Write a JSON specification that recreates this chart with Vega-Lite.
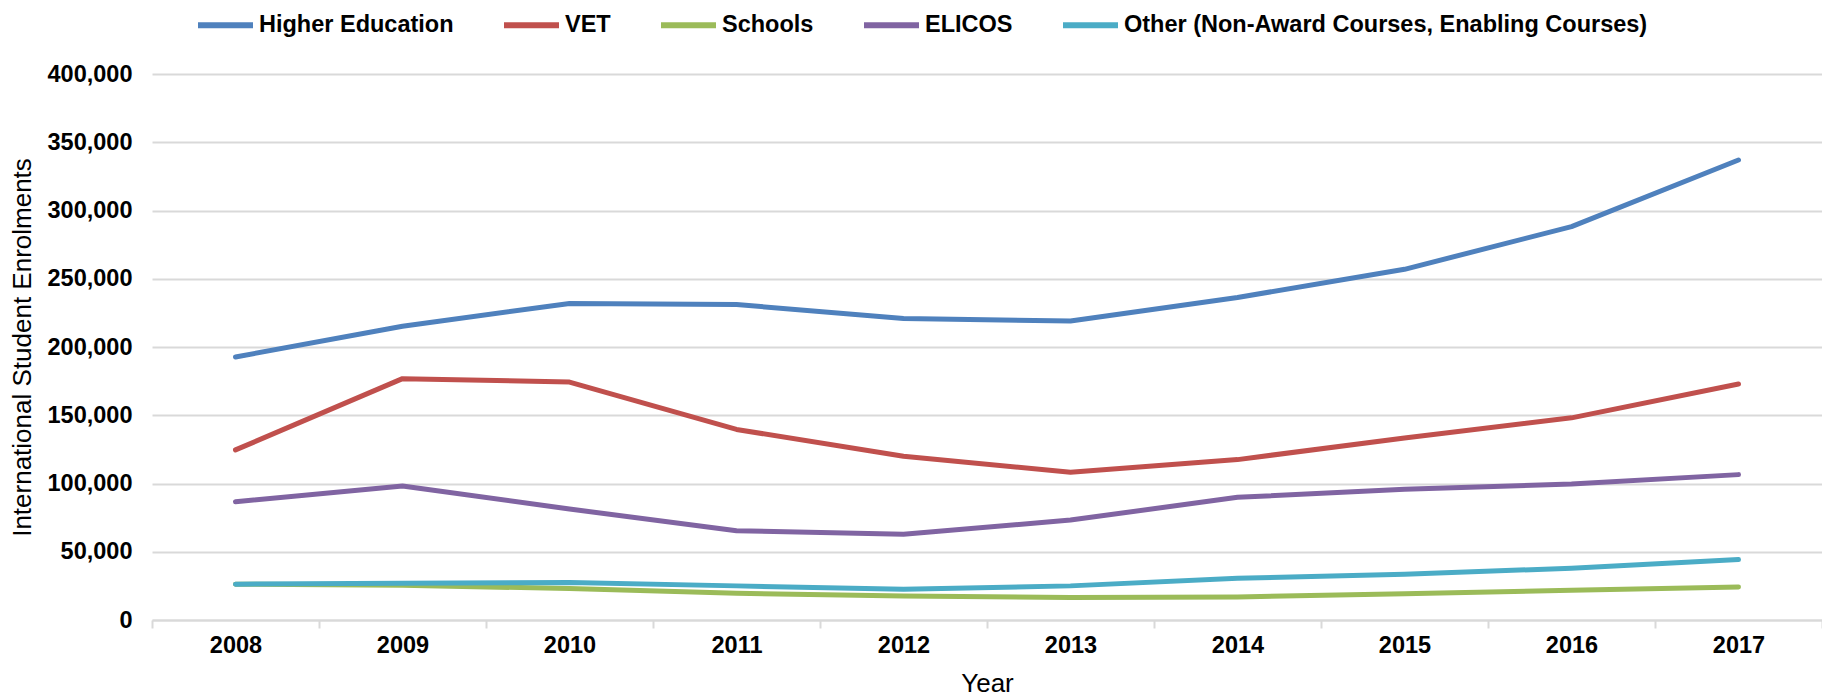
{
  "$schema": "https://vega.github.io/schema/vega-lite/v6.json",
  "autosize": {"type": "none"},
  "padding": {"left": 152, "top": 74, "right": 0, "bottom": 77},
  "width": 1670,
  "height": 546,
  "background": "white",
  "config": {
    "font": "Liberation Sans",
    "view": {"stroke": null}
  },
  "data": {
    "values": [
      {"series": "Higher Education", "year": "2008", "enrolments": 192700},
      {"series": "Higher Education", "year": "2009", "enrolments": 215200},
      {"series": "Higher Education", "year": "2010", "enrolments": 231900},
      {"series": "Higher Education", "year": "2011", "enrolments": 231100},
      {"series": "Higher Education", "year": "2012", "enrolments": 220900},
      {"series": "Higher Education", "year": "2013", "enrolments": 219100},
      {"series": "Higher Education", "year": "2014", "enrolments": 236300},
      {"series": "Higher Education", "year": "2015", "enrolments": 256900},
      {"series": "Higher Education", "year": "2016", "enrolments": 288200},
      {"series": "Higher Education", "year": "2017", "enrolments": 337000},
      {"series": "VET", "year": "2008", "enrolments": 124600},
      {"series": "VET", "year": "2009", "enrolments": 176800},
      {"series": "VET", "year": "2010", "enrolments": 174300},
      {"series": "VET", "year": "2011", "enrolments": 139600},
      {"series": "VET", "year": "2012", "enrolments": 120000},
      {"series": "VET", "year": "2013", "enrolments": 108200},
      {"series": "VET", "year": "2014", "enrolments": 117500},
      {"series": "VET", "year": "2015", "enrolments": 133400},
      {"series": "VET", "year": "2016", "enrolments": 148100},
      {"series": "VET", "year": "2017", "enrolments": 172900},
      {"series": "Schools", "year": "2008", "enrolments": 26200},
      {"series": "Schools", "year": "2009", "enrolments": 25500},
      {"series": "Schools", "year": "2010", "enrolments": 23000},
      {"series": "Schools", "year": "2011", "enrolments": 19600},
      {"series": "Schools", "year": "2012", "enrolments": 17600},
      {"series": "Schools", "year": "2013", "enrolments": 16400},
      {"series": "Schools", "year": "2014", "enrolments": 16900},
      {"series": "Schools", "year": "2015", "enrolments": 19300},
      {"series": "Schools", "year": "2016", "enrolments": 21800},
      {"series": "Schools", "year": "2017", "enrolments": 24200},
      {"series": "ELICOS", "year": "2008", "enrolments": 86700},
      {"series": "ELICOS", "year": "2009", "enrolments": 98200},
      {"series": "ELICOS", "year": "2010", "enrolments": 81300},
      {"series": "ELICOS", "year": "2011", "enrolments": 65400},
      {"series": "ELICOS", "year": "2012", "enrolments": 62900},
      {"series": "ELICOS", "year": "2013", "enrolments": 73200},
      {"series": "ELICOS", "year": "2014", "enrolments": 89900},
      {"series": "ELICOS", "year": "2015", "enrolments": 95700},
      {"series": "ELICOS", "year": "2016", "enrolments": 99700},
      {"series": "ELICOS", "year": "2017", "enrolments": 106500},
      {"series": "Other (Non-Award Courses, Enabling Courses)", "year": "2008", "enrolments": 26200},
      {"series": "Other (Non-Award Courses, Enabling Courses)", "year": "2009", "enrolments": 27000},
      {"series": "Other (Non-Award Courses, Enabling Courses)", "year": "2010", "enrolments": 27400},
      {"series": "Other (Non-Award Courses, Enabling Courses)", "year": "2011", "enrolments": 25000},
      {"series": "Other (Non-Award Courses, Enabling Courses)", "year": "2012", "enrolments": 22500},
      {"series": "Other (Non-Award Courses, Enabling Courses)", "year": "2013", "enrolments": 25000},
      {"series": "Other (Non-Award Courses, Enabling Courses)", "year": "2014", "enrolments": 30600},
      {"series": "Other (Non-Award Courses, Enabling Courses)", "year": "2015", "enrolments": 33500},
      {"series": "Other (Non-Award Courses, Enabling Courses)", "year": "2016", "enrolments": 38000},
      {"series": "Other (Non-Award Courses, Enabling Courses)", "year": "2017", "enrolments": 44300}
    ]
  },
  "mark": {"type": "line", "strokeWidth": 5, "strokeCap": "round", "strokeJoin": "round"},
  "encoding": {
    "x": {
      "field": "year",
      "type": "ordinal",
      "bandPosition": 0.5,
      "scale": {"type": "band", "paddingInner": 0, "paddingOuter": 0},
      "axis": {
        "title": "Year",
        "titleFontSize": 26,
        "titleFontWeight": "normal",
        "titleColor": "#000000",
        "titleY": 71,
        "titleBaseline": "alphabetic",
        "labelAngle": 0,
        "labelFontSize": 23.5,
        "labelFontWeight": "bold",
        "labelColor": "#000000",
        "labelPadding": 5,
        "tickBand": "extent",
        "tickColor": "#d9d9d9",
        "tickWidth": 2,
        "tickSize": 8,
        "domainColor": "#d9d9d9",
        "domainWidth": 2,
        "grid": false
      }
    },
    "y": {
      "field": "enrolments",
      "type": "quantitative",
      "scale": {"domain": [0, 400000], "nice": false},
      "axis": {
        "title": "International Student Enrolments",
        "titleFontSize": 26,
        "titleFontWeight": "normal",
        "titleColor": "#000000",
        "titleX": -130,
        "titleY": 273,
        "titleAngle": -90,
        "titleBaseline": "middle",
        "titleAlign": "center",
        "values": [0, 50000, 100000, 150000, 200000, 250000, 300000, 350000, 400000],
        "format": ",d",
        "labelFontSize": 23.5,
        "labelFontWeight": "bold",
        "labelColor": "#000000",
        "labelPadding": 20,
        "ticks": false,
        "domain": false,
        "grid": true,
        "gridColor": "#d9d9d9",
        "gridWidth": 2
      }
    },
    "color": {
      "field": "series",
      "type": "nominal",
      "sort": ["Higher Education", "VET", "Schools", "ELICOS", "Other (Non-Award Courses, Enabling Courses)"],
      "scale": {
        "domain": ["Higher Education", "VET", "Schools", "ELICOS", "Other (Non-Award Courses, Enabling Courses)"],
        "range": ["#4F81BD", "#C0504D", "#9BBB59", "#8064A2", "#4BACC6"]
      },
      "legend": {
        "title": null,
        "orient": "none",
        "legendX": 43,
        "legendY": -79.5,
        "direction": "horizontal",
        "symbolType": "stroke",
        "symbolSize": 3025,
        "symbolStrokeWidth": 6,
        "labelFontSize": 23.5,
        "labelFontWeight": "bold",
        "labelColor": "#000000",
        "labelOffset": 3,
        "labelLimit": 1000,
        "columnPadding": 38
      }
    }
  }
}
